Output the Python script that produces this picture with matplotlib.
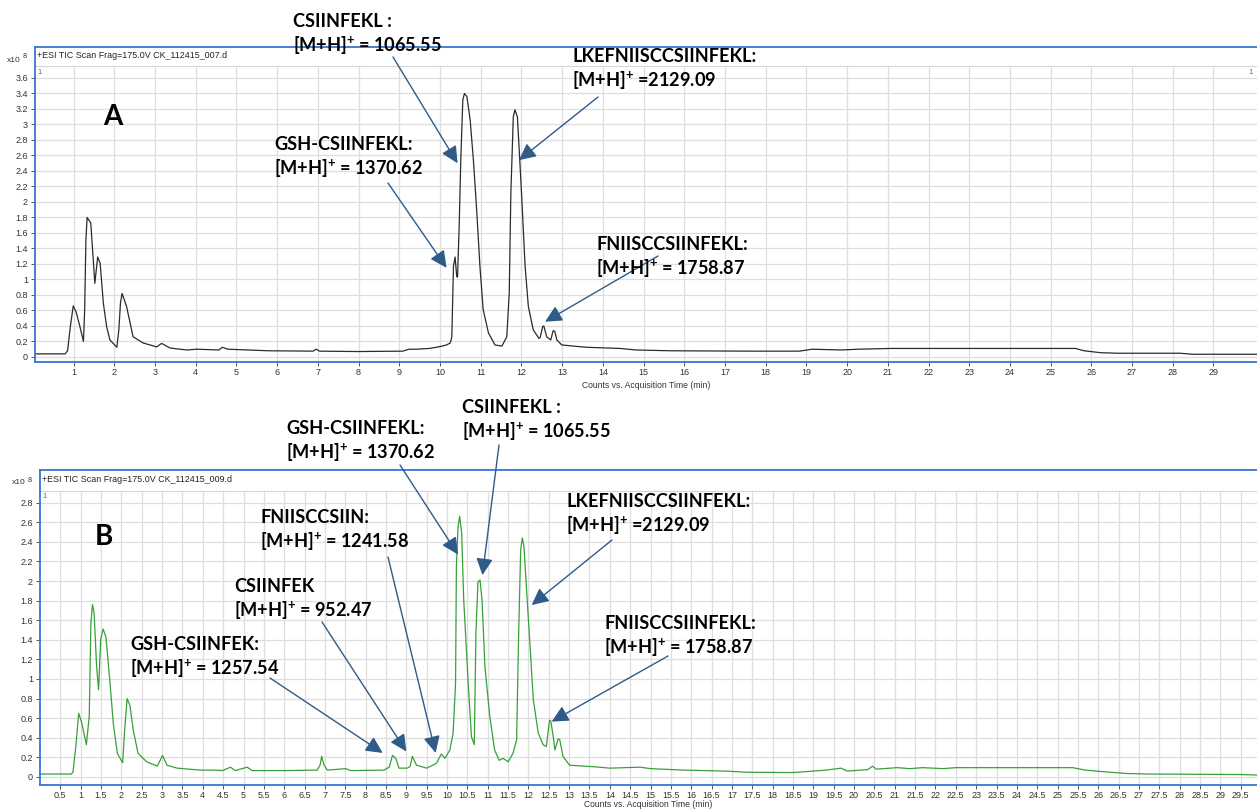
import matplotlib.pyplot as plt
import numpy as np

W, H = 1257, 810

# chromatogram A (time in min, counts in 1e8)
trace_a = [
    (0.0, 0.04), (0.79, 0.04), (0.85, 0.08), (0.92, 0.40), (0.99, 0.66), (1.06, 0.58),
    (1.15, 0.40), (1.24, 0.20), (1.27, 0.60), (1.30, 1.50), (1.33, 1.80), (1.42, 1.73),
    (1.52, 0.95), (1.59, 1.29), (1.65, 1.21), (1.73, 0.69), (1.81, 0.39), (1.89, 0.22),
    (2.06, 0.125), (2.11, 0.35), (2.15, 0.70), (2.19, 0.82), (2.30, 0.65), (2.46, 0.26),
    (2.71, 0.18), (3.04, 0.13), (3.16, 0.175), (3.37, 0.115), (3.78, 0.09), (4.02, 0.10),
    (4.57, 0.09), (4.65, 0.125), (4.79, 0.10), (5.78, 0.08), (6.88, 0.075), (6.96, 0.10),
    (7.04, 0.075), (7.98, 0.07), (9.08, 0.075), (9.24, 0.10), (9.41, 0.10), (9.74, 0.11),
    (10.01, 0.135), (10.16, 0.155), (10.25, 0.18), (10.29, 0.26), (10.33, 1.17), (10.37, 1.29),
    (10.41, 1.04), (10.43, 1.03), (10.47, 1.68), (10.51, 2.54), (10.56, 3.32), (10.60, 3.40),
    (10.66, 3.36), (10.74, 3.06), (10.82, 2.54), (10.90, 1.90), (10.98, 1.17), (11.06, 0.61),
    (11.19, 0.31), (11.35, 0.155), (11.52, 0.14), (11.64, 0.26), (11.70, 0.82), (11.74, 2.11),
    (11.80, 3.10), (11.84, 3.19), (11.90, 3.10), (11.95, 2.63), (12.01, 2.03), (12.09, 1.17),
    (12.17, 0.65), (12.29, 0.35), (12.43, 0.24), (12.46, 0.25), (12.52, 0.39), (12.55, 0.40),
    (12.62, 0.26), (12.72, 0.22), (12.78, 0.34), (12.82, 0.33), (12.87, 0.22), (12.99, 0.155),
    (13.28, 0.14), (13.60, 0.125), (14.42, 0.11), (14.82, 0.09), (15.64, 0.08), (17.6, 0.075),
    (18.83, 0.075), (19.14, 0.10), (19.86, 0.09), (20.27, 0.10), (21.09, 0.11), (22.63, 0.11),
    (25.61, 0.11), (25.82, 0.08), (26.23, 0.055), (26.64, 0.048), (28.18, 0.048), (28.49, 0.035),
    (30.07, 0.035),
]

# chromatogram B
trace_b = [
    (0.0, 0.03), (0.77, 0.03), (0.81, 0.05), (0.88, 0.31), (0.95, 0.65), (1.02, 0.56),
    (1.14, 0.33), (1.21, 0.62), (1.25, 1.57), (1.29, 1.76), (1.33, 1.67), (1.39, 1.13),
    (1.44, 0.89), (1.49, 1.40), (1.55, 1.51), (1.62, 1.43), (1.72, 0.96), (1.80, 0.55),
    (1.90, 0.24), (2.03, 0.146), (2.08, 0.48), (2.14, 0.80), (2.21, 0.73), (2.29, 0.48),
    (2.41, 0.24), (2.62, 0.155), (2.88, 0.11), (3.01, 0.22), (3.12, 0.12), (3.37, 0.09),
    (3.94, 0.07), (4.31, 0.07), (4.48, 0.065), (4.68, 0.10), (4.80, 0.065), (5.09, 0.10),
    (5.21, 0.065), (5.99, 0.065), (6.81, 0.07), (6.88, 0.12), (6.92, 0.21), (6.98, 0.12),
    (7.06, 0.07), (7.51, 0.085), (7.63, 0.065), (8.45, 0.07), (8.58, 0.10), (8.66, 0.22),
    (8.74, 0.19), (8.82, 0.09), (9.02, 0.09), (9.09, 0.105), (9.15, 0.21), (9.25, 0.12),
    (9.50, 0.09), (9.74, 0.14), (9.86, 0.235), (9.95, 0.19), (10.07, 0.275), (10.15, 0.45),
    (10.21, 0.96), (10.23, 2.15), (10.27, 2.55), (10.31, 2.66), (10.36, 2.49), (10.41, 1.81),
    (10.52, 0.96), (10.60, 0.41), (10.67, 0.33), (10.71, 1.47), (10.76, 1.99), (10.81, 2.01),
    (10.86, 1.81), (10.93, 1.13), (11.05, 0.62), (11.17, 0.275), (11.28, 0.17), (11.38, 0.19),
    (11.50, 0.155), (11.62, 0.24), (11.71, 0.38), (11.76, 1.47), (11.81, 2.32), (11.85, 2.44),
    (11.89, 2.35), (11.95, 1.94), (12.03, 1.40), (12.12, 0.79), (12.24, 0.45), (12.36, 0.33),
    (12.44, 0.31), (12.48, 0.45), (12.52, 0.58), (12.55, 0.57), (12.61, 0.41), (12.65, 0.275),
    (12.73, 0.39), (12.77, 0.38), (12.85, 0.21), (13.01, 0.12), (13.59, 0.105), (14.0, 0.09),
    (14.75, 0.10), (15.0, 0.085), (15.83, 0.07), (16.85, 0.06), (17.37, 0.048), (18.5, 0.045),
    (19.32, 0.07), (19.68, 0.09), (19.83, 0.06), (20.34, 0.075), (20.45, 0.11), (20.55, 0.08),
    (21.06, 0.095), (21.37, 0.085), (21.68, 0.095), (22.19, 0.085), (22.5, 0.095), (25.37, 0.095),
    (25.68, 0.07), (26.09, 0.055), (26.71, 0.035), (27.22, 0.03), (29.48, 0.025), (29.9, 0.02),
]

xticks_a = list(range(1, 30))
xticks_b = [v / 2 for v in range(1, 60)]
yticks_a = [v / 5 for v in range(0, 19)]
yticks_b = [v / 5 for v in range(0, 15)]

header_a = "+ESI TIC Scan Frag=175.0V CK_112415_007.d"
header_b = "+ESI TIC Scan Frag=175.0V CK_112415_009.d"
xlabel = "Counts vs. Acquisition Time (min)"

# peak labels: name, [M+H]+ value, peak point (time, counts)
peaks_a = [
    ("CSIINFEKL :", " = 1065.55", (10.43, 2.50)),
    ("LKEFNIISCCSIINFEKL:", " =2129.09", (11.94, 2.54)),
    ("GSH-CSIINFEKL:", " = 1370.62", (10.16, 1.15)),
    ("FNIISCCSIINFEKL:", " = 1758.87", (12.58, 0.455)),
]
peaks_b = [
    ("GSH-CSIINFEKL:", " = 1370.62", (10.27, 2.27)),
    ("CSIINFEKL :", " = 1065.55", (10.87, 2.06)),
    ("LKEFNIISCCSIINFEKL:", " =2129.09", (12.08, 1.755)),
    ("FNIISCCSIIN:", " = 1241.58", (9.72, 0.245)),
    ("CSIINFEK", " = 952.47", (9.00, 0.26)),
    ("GSH-CSIINFEK:", " = 1257.54", (8.42, 0.245)),
    ("FNIISCCSIINFEKL:", " = 1758.87", (12.57, 0.565)),
]

# label layout in pixels: text left, first line centre, arrow tail
layout_a = [(293, 20, (393, 57)), (572, 55, (598, 97)), (274, 143, (388, 183)), (596, 243, (658, 256))]
layout_b = [(286, 427, (400, 465)), (462, 406, (499, 445)), (566, 500, (612, 540)),
            (260, 516, (388, 557)), (234, 585, (322, 622)), (130, 643, (270, 678)),
            (604, 622, (668, 656))]

plt.rcParams['mathtext.fontset'] = 'custom'
plt.rcParams['mathtext.rm'] = 'Lato:bold'
plt.rcParams['mathtext.bf'] = 'Lato:bold'
plt.rcParams['mathtext.default'] = 'rm'

small_font = ['Liberation Sans Narrow', 'Liberation Sans', 'DejaVu Sans']
label_font = ['Lato', 'DejaVu Sans']
blue = '#3a74d2'
arrow_col = '#2e5b88'


def px(x, y):
    return x / W, 1 - y / H


fig = plt.figure(figsize=(W / 100, H / 100), dpi=100)


def draw_panel(frame, xlim, ylim, band, trace, color, xticks, yticks, header,
               letter, letter_xy, peaks, layout, right_one, xlabel_pad):
    left, top, bottom = frame
    ax = fig.add_axes([left / W, 1 - bottom / H, (W - left) / W, (bottom - top) / H])
    t, c = zip(*trace)
    ax.plot(t, c, color=color, lw=0.9, zorder=2)
    ax.set_xlim(*xlim)
    ax.set_ylim(*ylim)
    ax.set_xticks(xticks)
    ax.set_xticklabels([f"{v:g}" for v in xticks])
    ax.set_yticks(yticks)
    ax.set_yticklabels([f"{v:g}" for v in yticks])
    ax.set_axisbelow(True)
    ax.grid(True, color='#dedede', lw=0.9)
    ax.axhspan(band, ylim[1], color='white', zorder=1)
    ax.axhline(band, color='#d6d6d6', lw=0.8, zorder=1.1)
    for s in ['left', 'bottom', 'top']:
        ax.spines[s].set_color(blue)
        ax.spines[s].set_linewidth(1.3)
    ax.spines['right'].set_visible(False)
    ax.tick_params(axis='both', direction='out', length=3, width=0.7, color='#555555',
                   labelsize=6.5, labelcolor='#333333', pad=2)
    ax.tick_params(axis='x', pad=1.5)
    for lab in ax.get_xticklabels() + ax.get_yticklabels():
        lab.set_family(small_font)
    ax.set_xlabel(xlabel, fontsize=6.2, color='#333333', family=small_font,
                  labelpad=xlabel_pad)

    fig.text(*px(left + 2, top + 9), header, fontsize=6.4, family=small_font,
             color='#222222', va='center', ha='left')
    fig.text(*px(left + 2, top + 26), "1", fontsize=5.5, family=small_font,
             color='#666666', va='center', ha='left')
    if right_one:
        fig.text(*px(W - 4, top + 26), "1", fontsize=5.5, family=small_font,
                 color='#666666', va='center', ha='right')
    fig.text(*px(left - 28, top + 13), "x10", fontsize=6.0, family=small_font,
             color='#333333', va='center', ha='left')
    fig.text(*px(left - 12, top + 10), "8", fontsize=5.2, family=small_font,
             color='#333333', va='center', ha='left')

    fig.text(*px(*letter_xy), letter, fontsize=20, family=label_font,
             fontweight='bold', ha='center', va='center')

    for (name, mass, tip), (tx, ty, tail) in zip(peaks, layout):
        fig.text(*px(tx, ty + 7), name, fontsize=13.1, family=label_font,
                 fontweight='bold', ha='left', va='baseline')
        fig.text(*px(tx, ty + 32), r"[M+H]$^{+}$" + mass, fontsize=13.1,
                 family=label_font, fontweight='bold', ha='left', va='baseline')
        ax.annotate('', xy=tip, xycoords='data', xytext=px(*tail),
                    textcoords='figure fraction', annotation_clip=False,
                    arrowprops=dict(arrowstyle='-|>,head_length=0.85,head_width=0.42',
                                    color=arrow_col, lw=1.0, shrinkA=0, shrinkB=0,
                                    mutation_scale=12))
    return ax


draw_panel((35, 47, 362), (0.05, 30.07), (-0.065, 4.0), 3.755, trace_a, '#2b2b2b',
           xticks_a, yticks_a, header_a, "A", (113, 117), peaks_a, layout_a, True, 3)
draw_panel((40, 470, 785), (0.0, 29.9), (-0.082, 3.133), 2.918, trace_b, '#38a038',
           xticks_b, yticks_b, header_b, "B", (104, 537), peaks_b, layout_b, False, 0)

fig.savefig("out.png", dpi=100)
